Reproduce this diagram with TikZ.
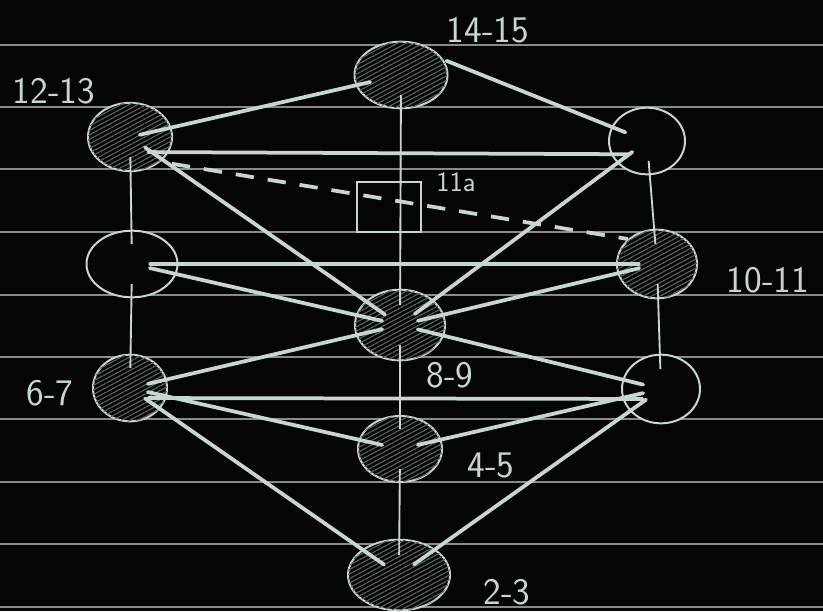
\documentclass[tikz,border=0pt]{standalone}
\usepackage{xcolor}
\usepackage{tikz}
\usetikzlibrary{shapes.geometric,patterns.meta}
\definecolor{chalk}{HTML}{C4D8CE}
\definecolor{chalkdim}{HTML}{56625C}
\definecolor{ruled}{HTML}{8A8A8A}
\definecolor{board}{HTML}{050505}

\begin{document}
\begin{tikzpicture}[
    x=0.03cm, y=-0.03cm,
    sphere/.style={ellipse, draw=chalk, line width=1.7pt, fill=board, inner sep=0pt},
    hatchfill/.style={postaction={pattern={Lines[angle=28,distance=3.4pt,line width=1pt]}, pattern color=chalkdim}},
    squarebox/.style={rectangle, draw=chalk, line width=1.7pt, inner sep=0pt, minimum width=1.9cm, minimum height=1.5cm},
    numtag/.style={text=chalk, inner sep=0pt, font=\sffamily\fontsize{32}{34}\selectfont},
    spoke/.style={draw=chalk, line width=3.2pt, line cap=round, shorten >=0.55cm, shorten <=0.55cm},
    pillar/.style={draw=chalk, line width=1.6pt, shorten >=0.6cm, shorten <=0.6cm},
    veil/.style={draw=chalk, line width=3.2pt, dash pattern=on 0.55cm off 0.42cm}
  ]
    \fill[board] (0,0) rectangle (823,611);
    \useasboundingbox (0,0) rectangle (823,611);
    \foreach \y in {45,107,169,232,295,357,419,482,544,607}
      \draw[ruled, line width=1.2pt] (0,\y) -- (823,\y);

    \node[sphere, hatchfill, minimum width=2.79cm, minimum height=2.0cm] (n1415) at (401,75) {};
    \node[sphere, hatchfill, minimum width=2.52cm, minimum height=2.05cm] (n1213) at (130,137) {};
    \node[sphere, minimum width=2.28cm, minimum height=2.0cm] (nrt) at (647,141) {};
    \node[sphere, minimum width=2.73cm, minimum height=2.0cm] (nlm) at (132,264) {};
    \node[sphere, hatchfill, minimum width=2.4cm, minimum height=2.06cm] (n1011) at (657,264) {};
    \node[sphere, hatchfill, minimum width=2.7cm, minimum height=2.12cm] (n89) at (400,325) {};
    \node[sphere, hatchfill, minimum width=2.22cm, minimum height=2.0cm] (n67) at (130,388) {};
    \node[sphere, minimum width=2.34cm, minimum height=2.06cm] (nrl) at (661,389) {};
    \node[sphere, hatchfill, minimum width=2.52cm, minimum height=1.98cm] (n45) at (400,449) {};
    \node[sphere, hatchfill, minimum width=3.06cm, minimum height=2.12cm] (n23) at (399,575) {};
    \node[squarebox] (box11a) at (389,207) {};

    \node[numtag] (t1415) at (488,30) {14-15};
    \node[numtag] (t1213) at (54,91) {12-13};
    \node[numtag, font=\sffamily\fontsize{24}{26}\selectfont] (t11a) at (456,182) {11a};
    \node[numtag] (t1011) at (768,280) {10-11};
    \node[numtag] (t89) at (450,375) {8-9};
    \node[numtag] (t67) at (50,393) {6-7};
    \node[numtag] (t45) at (491,465) {4-5};
    \node[numtag] (t23) at (507,592) {2-3};

    \draw[pillar] (n1415.center) -- (n89.center);
    \draw[pillar] (n89.center) -- (n45.center);
    \draw[pillar] (n45.center) -- (n23.center);
    \draw[pillar] (n1213.center) -- (nlm.center);
    \draw[pillar] (nlm.center) -- (n67.center);
    \draw[pillar] (nrt.center) -- (n1011.center);
    \draw[pillar] (n1011.center) -- (nrl.center);
    \draw[veil, shorten <=0.35cm] (n1213.south east) -- (n1011.north west);
    \draw[spoke, shorten >=0.95cm, shorten <=0.3cm] (n1213.center) -- (n1415.center);
    \draw[spoke, shorten <=0.1cm, shorten >=0.7cm] (n1415.20) -- (nrt.center);
    \draw[spoke] ([yshift=-0.45cm]n1213.center) -- ([yshift=-0.4cm]nrt.center);
    \draw[spoke] (n1213.center) -- (n89.center);
    \draw[spoke] (nrt.center) -- (n89.center);
    \draw[spoke] (nlm.center) -- (n1011.center);
    \draw[spoke] (nlm.center) -- (n89.center);
    \draw[spoke] (n1011.center) -- (n89.center);
    \draw[spoke] (n89.center) -- (n67.center);
    \draw[spoke] (n89.center) -- (nrl.center);
    \draw[spoke] ([yshift=-0.3cm]n67.center) -- ([yshift=-0.3cm]nrl.center);
    \draw[spoke] (n67.center) -- (n45.center);
    \draw[spoke] (nrl.center) -- (n45.center);
    \draw[spoke] (n67.center) -- (n23.center);
    \draw[spoke] (nrl.center) -- (n23.center);
  \end{tikzpicture}
\end{document}
